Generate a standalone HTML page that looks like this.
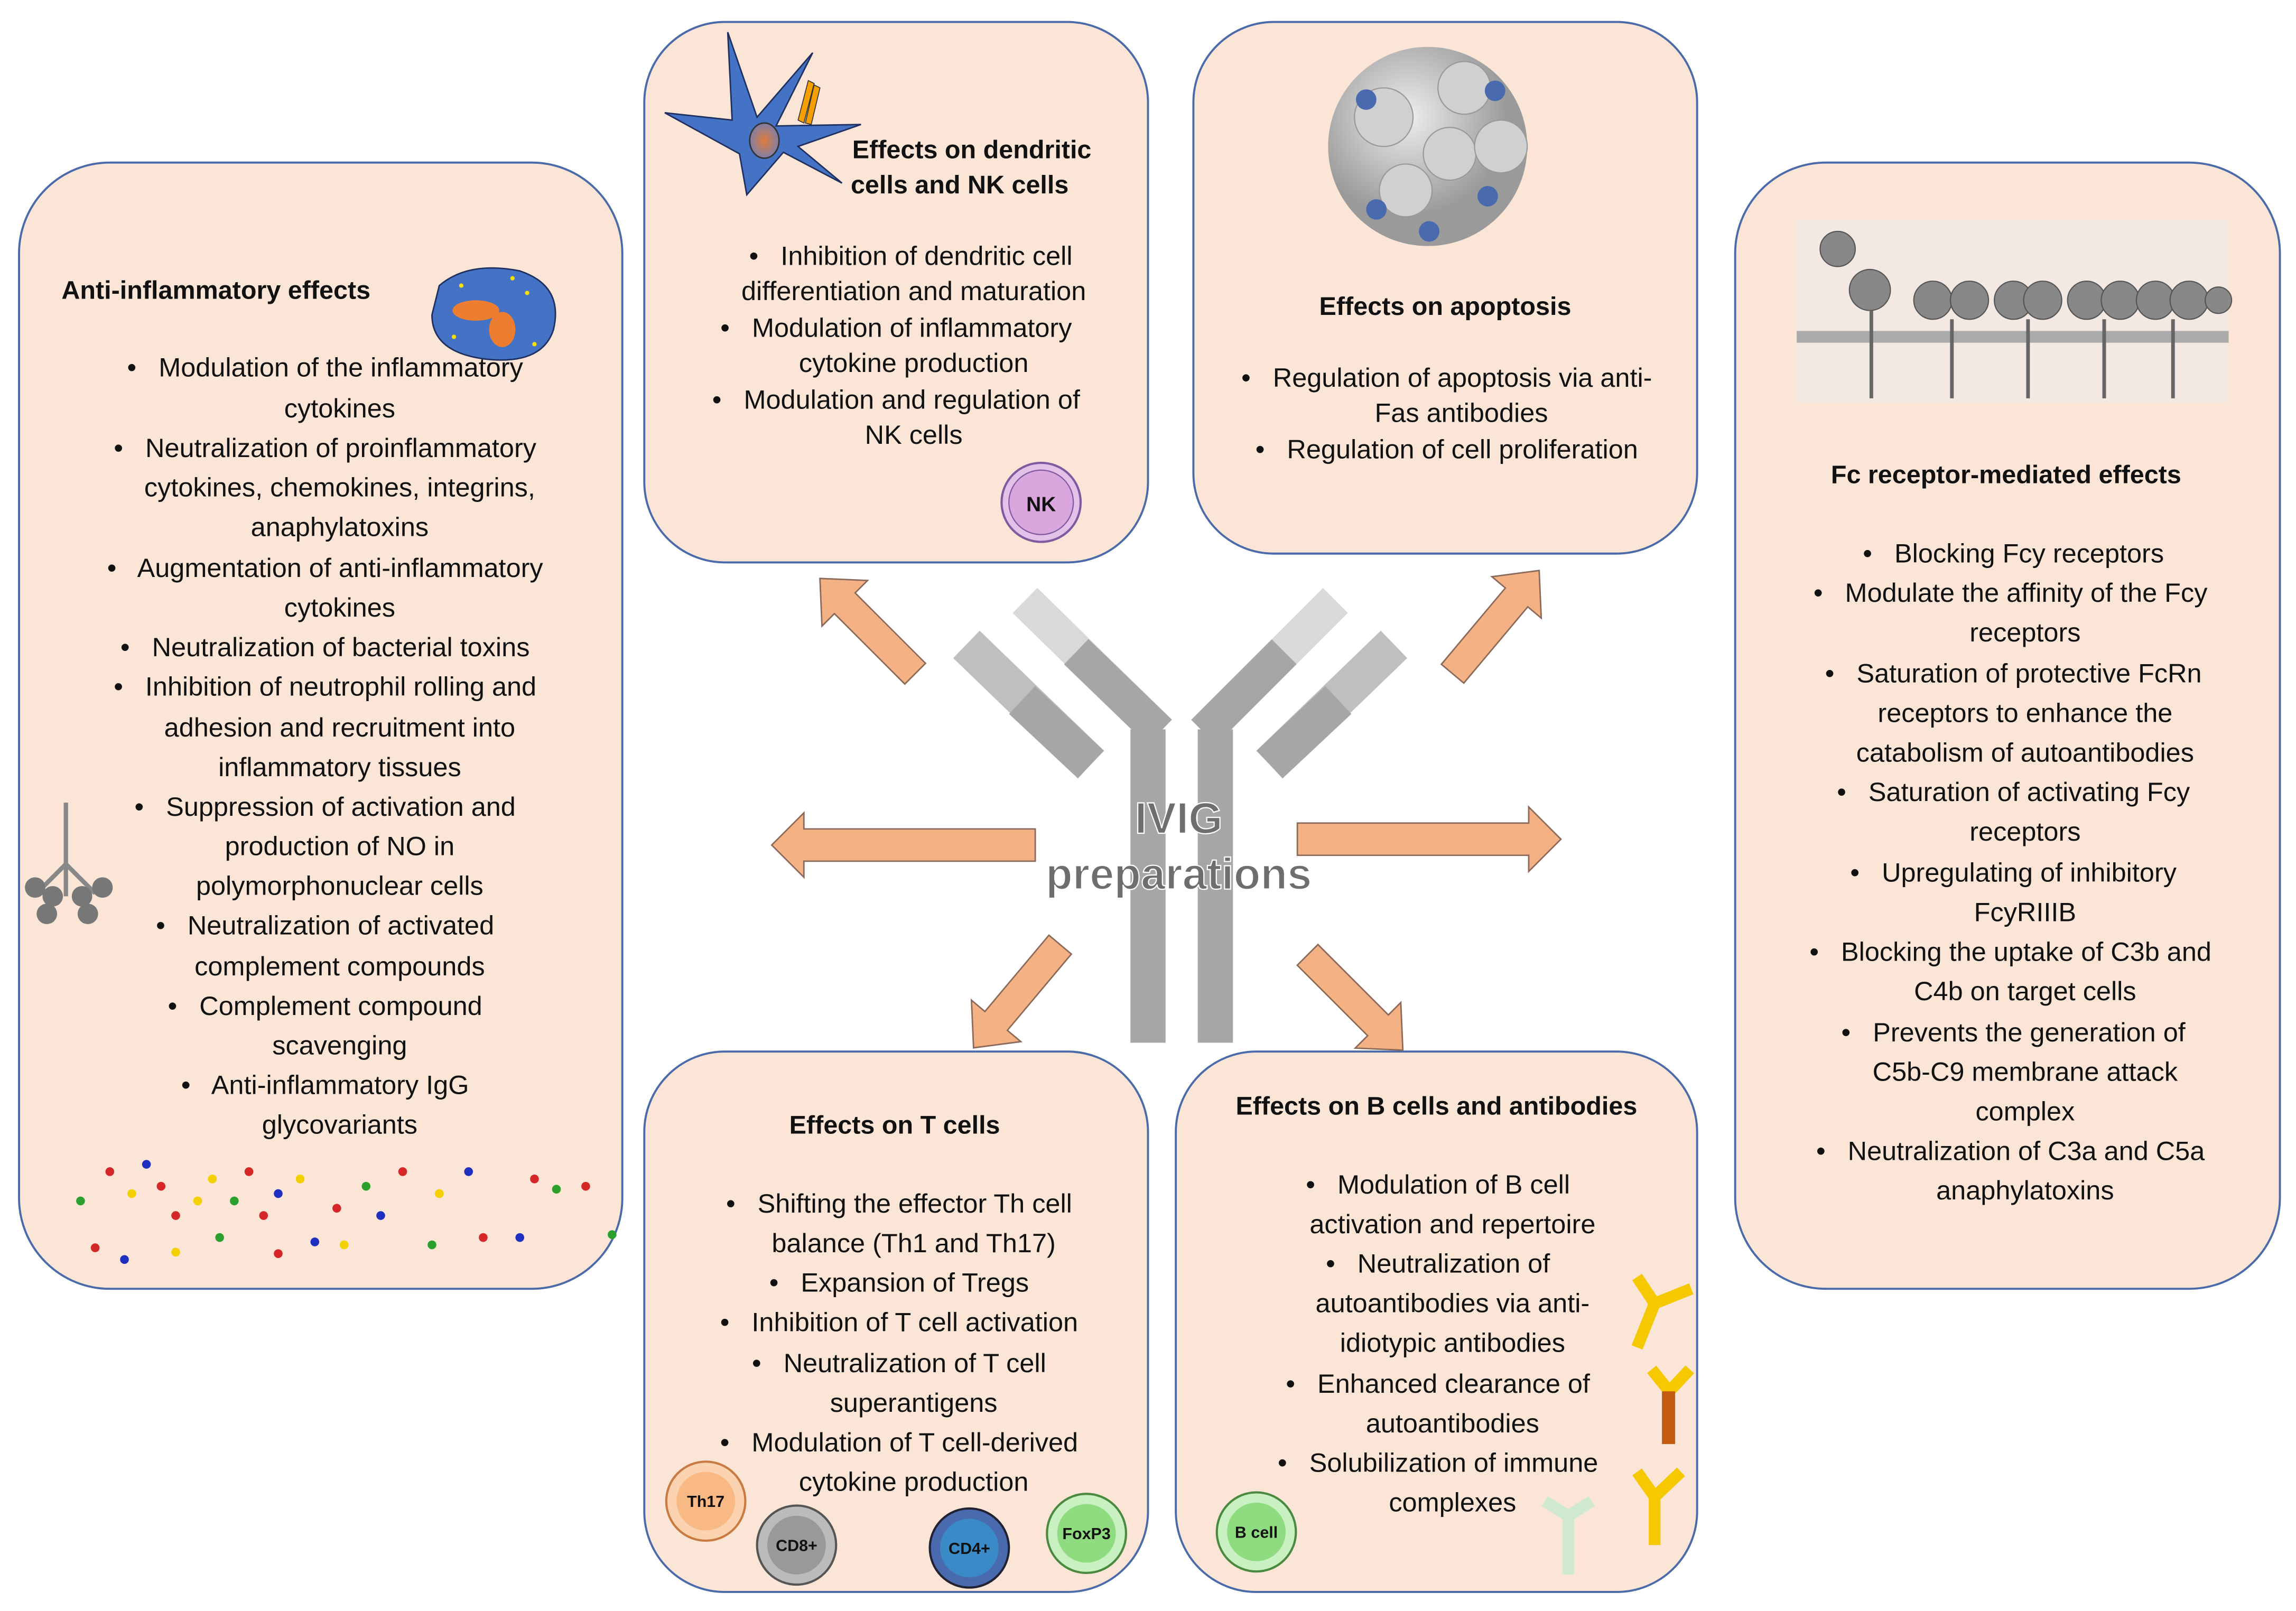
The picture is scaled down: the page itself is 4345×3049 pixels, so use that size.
<!DOCTYPE html>
<html><head><meta charset="utf-8"><style>
html,body{margin:0;padding:0;background:#fff;}
svg{display:block;}
text{font-family:"Liberation Sans",sans-serif;fill:#111;white-space:pre;}
.b{font-size:18.2px;text-anchor:middle;}
.t{font-size:17.5px;font-weight:bold;}
</style></head><body>
<svg width="4345" height="3049" viewBox="0 0 1568 1100" preserveAspectRatio="none" xmlns="http://www.w3.org/2000/svg" xml:space="preserve">
<defs>
<radialGradient id="nuc"><stop offset="0" stop-color="#e07b39"/><stop offset="1" stop-color="#7f7fa8"/></radialGradient>
<radialGradient id="gc" cx="0.4" cy="0.35"><stop offset="0" stop-color="#eeeeee"/><stop offset="1" stop-color="#9a9a9a"/></radialGradient>
<g id="arr"><polygon points="0,-10 -68,-10 -68,-22 -92,0 -68,22 -68,10 0,10" fill="#f4b183" stroke="#8a6a5a" stroke-width="1"/></g>
<g id="harr"><polygon points="0,-11 -158,-11 -158,-22 -180,0 -158,22 -158,11 0,11" fill="#f4b183" stroke="#8a6a5a" stroke-width="1"/></g>
</defs>
<g fill="#fbe5d6" stroke="#4a6aaa" stroke-width="1.4">
<rect x="13" y="111" width="412" height="769" rx="62"/>
<rect x="440" y="15" width="344" height="369" rx="55"/>
<rect x="815" y="15" width="344" height="363" rx="55"/>
<rect x="1185" y="111" width="372" height="769" rx="62"/>
<rect x="440" y="718" width="344" height="369" rx="55"/>
<rect x="803" y="718" width="356" height="369" rx="55"/>
</g>

<g stroke-linecap="butt">
<line x1="784" y1="498" x2="784" y2="712" stroke="#a6a6a6" stroke-width="24"/>
<line x1="830" y1="498" x2="830" y2="712" stroke="#a6a6a6" stroke-width="24"/>
<line x1="660" y1="440" x2="745" y2="522" stroke="#bfbfbf" stroke-width="26"/>
<line x1="700" y1="410" x2="792" y2="500" stroke="#d9d9d9" stroke-width="24"/>
<line x1="735" y1="445" x2="792" y2="500" stroke="#a6a6a6" stroke-width="24"/>
<line x1="698" y1="478" x2="745" y2="522" stroke="#a6a6a6" stroke-width="26"/>
<line x1="952" y1="440" x2="867" y2="522" stroke="#bfbfbf" stroke-width="26"/>
<line x1="912" y1="410" x2="822" y2="500" stroke="#d9d9d9" stroke-width="24"/>
<line x1="877" y1="445" x2="822" y2="500" stroke="#a6a6a6" stroke-width="24"/>
<line x1="914" y1="478" x2="867" y2="522" stroke="#a6a6a6" stroke-width="26"/>
</g>
<text x="805" y="569" style="font-size:30px;font-weight:bold;text-anchor:middle;fill:#6e6e6e;stroke:#fff;stroke-width:0.8">IVIG</text>
<text x="805" y="607" style="font-size:30px;font-weight:bold;text-anchor:middle;fill:#6e6e6e;stroke:#fff;stroke-width:0.8">preparations</text>

<use href="#harr" transform="translate(707,577)"/>
<use href="#harr" transform="translate(886,573) rotate(180)"/>
<use href="#arr" transform="translate(625,460) rotate(45)"/>
<use href="#arr" transform="translate(992,460) rotate(130)"/>
<use href="#arr" transform="translate(724,645) rotate(-50)"/>
<use href="#arr" transform="translate(893,652) rotate(-135)"/>

<path d="M497,22 L517,80 L555,36 L530,86 L588,85 L545,100 L575,125 L535,104 L510,133 L505,105 L454,77 L500,82 Z" fill="#4472c4" stroke="#1f2f5f" stroke-width="1"/>
<ellipse cx="522" cy="96" rx="10" ry="12" fill="url(#nuc)" stroke="#333"/>
<path d="M545,82 L552,55 L556,57 L549,84Z M550,84 L556,58 L560,60 L554,85Z" fill="#f5a000" stroke="#333" stroke-width="0.6"/>
<text class="t" x="582" y="108">Effects on dendritic</text>
<text class="t" x="581" y="132">cells and NK cells</text>
<text class="b" x="622" y="181">•   Inhibition of dendritic cell</text>
<text class="b" x="624" y="205">differentiation and maturation</text>
<text class="b" x="612" y="230">•   Modulation of inflammatory</text>
<text class="b" x="624" y="254">cytokine production</text>
<text class="b" x="612" y="279">•   Modulation and regulation of</text>
<text class="b" x="624" y="303">NK cells</text>
<circle cx="711" cy="343" r="27" fill="#e4c1e8" stroke="#7f5aa0" stroke-width="1.5"/>
<circle cx="711" cy="343" r="22" fill="#d9a6dd" stroke="#7f5aa0" stroke-width="0.8"/>
<text x="711" y="349" style="font-size:14px;font-weight:bold;text-anchor:middle">NK</text>

<circle cx="975" cy="100" r="68" fill="url(#gc)"/>
<g fill="#d0d0d0" stroke="#999" stroke-width="0.8"><circle cx="945" cy="80" r="20"/><circle cx="990" cy="105" r="18"/><circle cx="1025" cy="100" r="18"/><circle cx="960" cy="130" r="18"/><circle cx="1000" cy="60" r="18"/></g>
<g fill="#4a6ab0"><circle cx="933" cy="68" r="7"/><circle cx="1021" cy="62" r="7"/><circle cx="1016" cy="134" r="7"/><circle cx="940" cy="143" r="7"/><circle cx="976" cy="158" r="7"/></g>
<text class="t" x="987" y="215" text-anchor="middle">Effects on apoptosis</text>
<text class="b" x="988" y="264">•   Regulation of apoptosis via anti-</text>
<text class="b" x="998" y="288">Fas antibodies</text>
<text class="b" x="988" y="313">•   Regulation of cell proliferation</text>

<text class="t" x="42" y="204">Anti-inflammatory effects</text>
<path d="M300,195 Q320,178 355,185 Q385,195 378,225 Q370,250 330,245 Q295,240 295,215 Z" fill="#4472c4" stroke="#1f2f5f"/>
<ellipse cx="325" cy="212" rx="16" ry="7" fill="#ed7d31"/><ellipse cx="343" cy="225" rx="9" ry="12" fill="#ed7d31"/>
<g fill="#f5e000"><circle cx="315" cy="195" r="1.5"/><circle cx="360" cy="200" r="1.5"/><circle cx="310" cy="230" r="1.5"/><circle cx="365" cy="235" r="1.5"/><circle cx="350" cy="190" r="1.5"/></g>
<g stroke="#888" stroke-width="3"><line x1="45" y1="548" x2="45" y2="590"/><line x1="45" y1="590" x2="25" y2="610"/><line x1="45" y1="590" x2="65" y2="610"/><line x1="45" y1="590" x2="45" y2="612"/></g>
<g fill="#777"><circle cx="24" cy="606" r="7"/><circle cx="36" cy="612" r="7"/><circle cx="56" cy="612" r="7"/><circle cx="70" cy="606" r="7"/><circle cx="32" cy="624" r="7"/><circle cx="60" cy="624" r="7"/></g>
<text class="b" x="222" y="257">•   Modulation of the inflammatory</text>
<text class="b" x="232" y="285">cytokines</text>
<text class="b" x="222" y="312">•   Neutralization of proinflammatory</text>
<text class="b" x="232" y="339">cytokines, chemokines, integrins,</text>
<text class="b" x="232" y="366">anaphylatoxins</text>
<text class="b" x="222" y="394">•   Augmentation of anti-inflammatory</text>
<text class="b" x="232" y="421">cytokines</text>
<text class="b" x="222" y="448">•   Neutralization of bacterial toxins</text>
<text class="b" x="222" y="475">•   Inhibition of neutrophil rolling and</text>
<text class="b" x="232" y="503">adhesion and recruitment into</text>
<text class="b" x="232" y="530">inflammatory tissues</text>
<text class="b" x="222" y="557">•   Suppression of activation and</text>
<text class="b" x="232" y="584">production of NO in</text>
<text class="b" x="232" y="611">polymorphonuclear cells</text>
<text class="b" x="222" y="638">•   Neutralization of activated</text>
<text class="b" x="232" y="666">complement compounds</text>
<text class="b" x="222" y="693">•   Complement compound</text>
<text class="b" x="232" y="720">scavenging</text>
<text class="b" x="222" y="747">•   Anti-inflammatory IgG</text>
<text class="b" x="232" y="774">glycovariants</text>
<g>
<circle cx="55" cy="820" r="3" fill="#2ca02c"/><circle cx="75" cy="800" r="3" fill="#d62728"/><circle cx="90" cy="815" r="3" fill="#f5d000"/><circle cx="100" cy="795" r="3" fill="#1f2fbf"/><circle cx="120" cy="830" r="3" fill="#d62728"/><circle cx="145" cy="805" r="3" fill="#f5d000"/><circle cx="160" cy="820" r="3" fill="#2ca02c"/><circle cx="170" cy="800" r="3" fill="#d62728"/><circle cx="190" cy="815" r="3" fill="#1f2fbf"/><circle cx="205" cy="805" r="3" fill="#f5d000"/><circle cx="230" cy="825" r="3" fill="#d62728"/><circle cx="250" cy="810" r="3" fill="#2ca02c"/><circle cx="275" cy="800" r="3" fill="#d62728"/><circle cx="300" cy="815" r="3" fill="#f5d000"/><circle cx="320" cy="800" r="3" fill="#1f2fbf"/><circle cx="365" cy="805" r="3" fill="#d62728"/><circle cx="380" cy="812" r="3" fill="#2ca02c"/><circle cx="400" cy="810" r="3" fill="#d62728"/><circle cx="65" cy="852" r="3" fill="#d62728"/><circle cx="85" cy="860" r="3" fill="#1f2fbf"/><circle cx="120" cy="855" r="3" fill="#f5d000"/><circle cx="150" cy="845" r="3" fill="#2ca02c"/><circle cx="190" cy="856" r="3" fill="#d62728"/><circle cx="215" cy="848" r="3" fill="#1f2fbf"/><circle cx="235" cy="850" r="3" fill="#f5d000"/><circle cx="295" cy="850" r="3" fill="#2ca02c"/><circle cx="330" cy="845" r="3" fill="#d62728"/><circle cx="355" cy="845" r="3" fill="#1f2fbf"/><circle cx="418" cy="843" r="3" fill="#2ca02c"/><circle cx="110" cy="810" r="3" fill="#d62728"/><circle cx="260" cy="830" r="3" fill="#1f2fbf"/><circle cx="180" cy="830" r="3" fill="#d62728"/><circle cx="135" cy="820" r="3" fill="#f5d000"/>
</g>

<rect x="1227" y="150" width="295" height="125" fill="#f3e9e2"/>
<line x1="1227" y1="230" x2="1522" y2="230" stroke="#aaa" stroke-width="8"/>
<g fill="#888" stroke="#555" stroke-width="0.8">
<circle cx="1255" cy="170" r="12"/><circle cx="1277" cy="198" r="14"/>
<circle cx="1320" cy="205" r="13"/><circle cx="1345" cy="205" r="13"/><circle cx="1375" cy="205" r="13"/><circle cx="1395" cy="205" r="13"/><circle cx="1425" cy="205" r="13"/><circle cx="1448" cy="205" r="13"/><circle cx="1472" cy="205" r="13"/><circle cx="1495" cy="205" r="13"/><circle cx="1515" cy="205" r="9"/>
</g>
<g stroke="#666" stroke-width="2.5"><line x1="1278" y1="212" x2="1278" y2="272"/><line x1="1333" y1="218" x2="1333" y2="272"/><line x1="1385" y1="218" x2="1385" y2="272"/><line x1="1437" y1="218" x2="1437" y2="272"/><line x1="1484" y1="218" x2="1484" y2="272"/></g>
<text class="t" x="1370" y="330" text-anchor="middle">Fc receptor-mediated effects</text>
<text class="b" x="1375" y="384">•   Blocking Fcy receptors</text>
<text class="b" x="1373" y="411">•   Modulate the affinity of the Fcy</text>
<text class="b" x="1383" y="438">receptors</text>
<text class="b" x="1375" y="466">•   Saturation of protective FcRn</text>
<text class="b" x="1383" y="493">receptors to enhance the</text>
<text class="b" x="1383" y="520">catabolism of autoantibodies</text>
<text class="b" x="1375" y="547">•   Saturation of activating Fcy</text>
<text class="b" x="1383" y="574">receptors</text>
<text class="b" x="1375" y="602">•   Upregulating of inhibitory</text>
<text class="b" x="1383" y="629">FcyRIIIB</text>
<text class="b" x="1373" y="656">•   Blocking the uptake of C3b and</text>
<text class="b" x="1383" y="683">C4b on target cells</text>
<text class="b" x="1375" y="711">•   Prevents the generation of</text>
<text class="b" x="1383" y="738">C5b-C9 membrane attack</text>
<text class="b" x="1383" y="765">complex</text>
<text class="b" x="1373" y="792">•   Neutralization of C3a and C5a</text>
<text class="b" x="1383" y="819">anaphylatoxins</text>

<text class="t" x="611" y="774" text-anchor="middle">Effects on T cells</text>
<text class="b" x="614" y="828">•   Shifting the effector Th cell</text>
<text class="b" x="624" y="855">balance (Th1 and Th17)</text>
<text class="b" x="614" y="882">•   Expansion of Tregs</text>
<text class="b" x="614" y="909">•   Inhibition of T cell activation</text>
<text class="b" x="614" y="937">•   Neutralization of T cell</text>
<text class="b" x="624" y="964">superantigens</text>
<text class="b" x="614" y="991">•   Modulation of T cell-derived</text>
<text class="b" x="624" y="1018">cytokine production</text>
<g stroke-width="1.5">
<circle cx="482" cy="1025" r="27" fill="#fbd3b0" stroke="#c87a40"/><circle cx="482" cy="1025" r="20" fill="#f8b984"/>
<circle cx="544" cy="1055" r="27" fill="#bbb" stroke="#555"/><circle cx="544" cy="1055" r="20" fill="#999"/>
<circle cx="662" cy="1057" r="27" fill="#4a6ab0" stroke="#223"/><circle cx="662" cy="1057" r="20" fill="#3a8ac8"/>
<circle cx="742" cy="1047" r="27" fill="#c8f0c0" stroke="#4a8a40"/><circle cx="742" cy="1047" r="20" fill="#8fdc80"/>
</g>
<g style="font-size:11px;font-weight:bold;text-anchor:middle">
<text x="482" y="1029">Th17</text><text x="544" y="1059">CD8+</text><text x="662" y="1061">CD4+</text><text x="742" y="1051">FoxP3</text></g>

<text class="t" x="981" y="761" text-anchor="middle">Effects on B cells and antibodies</text>
<text class="b" x="982" y="815">•   Modulation of B cell</text>
<text class="b" x="992" y="842">activation and repertoire</text>
<text class="b" x="982" y="869">•   Neutralization of</text>
<text class="b" x="992" y="896">autoantibodies via anti-</text>
<text class="b" x="992" y="923">idiotypic antibodies</text>
<text class="b" x="982" y="951">•   Enhanced clearance of</text>
<text class="b" x="992" y="978">autoantibodies</text>
<text class="b" x="982" y="1005">•   Solubilization of immune</text>
<text class="b" x="992" y="1032">complexes</text>
<circle cx="858" cy="1046" r="27" fill="#c8f0c0" stroke="#4a8a40" stroke-width="1.5"/><circle cx="858" cy="1046" r="20" fill="#8fdc80"/>
<text x="858" y="1050" style="font-size:11px;font-weight:bold;text-anchor:middle">B cell</text>
<g stroke="#f5c800" stroke-width="8" fill="none">
<path d="M1118,920 L1130,890 L1118,872 M1130,890 L1155,880"/>
<path d="M1128,935 L1140,950 L1154,935"/>
<path d="M1130,1055 L1130,1022 L1118,1005 M1130,1022 L1148,1005"/>
</g>
<rect x="1135" y="950" width="9" height="36" fill="#c55a11"/>
<g stroke="#cfe8d0" stroke-width="8" fill="none"><path d="M1071,1075 L1071,1035 L1055,1025 M1071,1035 L1087,1025"/></g>
</svg>
</body></html>
